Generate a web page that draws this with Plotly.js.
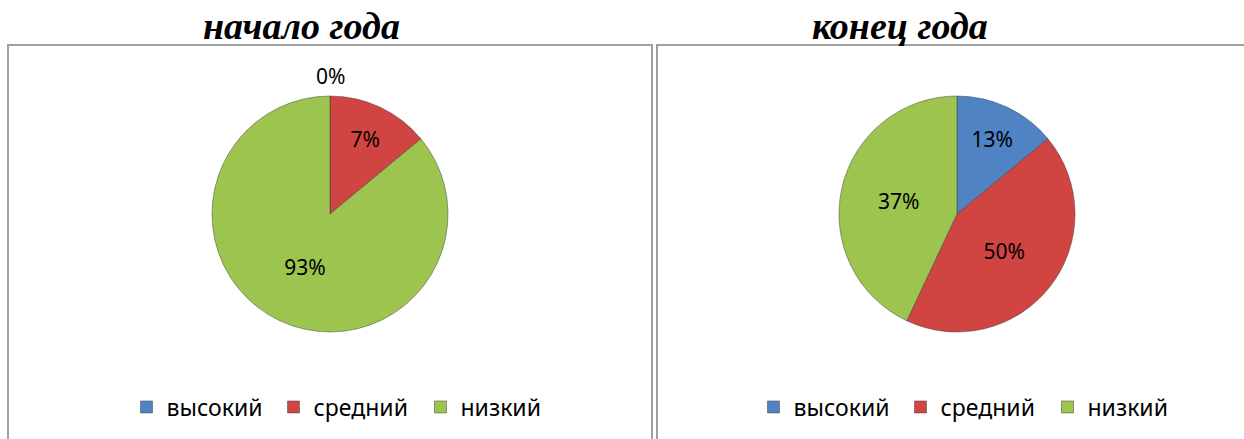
<!DOCTYPE html>
<html>
<head>
<meta charset="utf-8">
<script src="https://cdn.plot.ly/plotly-3.0.1.min.js"></script>
<style>html,body{margin:0;padding:0;background:#fff;}#chart{width:1244px;height:439px;}</style>
</head>
<body>
<div id="chart"></div>
<script>
// Data
const categories = ['высокий', 'средний', 'низкий'];
const panelTitles = ['начало года', 'конец года'];
// slice sizes as drawn in the picture
const startValues = [0, 14, 86];
const endValues = [14, 43, 43];
// percentage labels as printed on the picture
const startLabels = ['0%', '7%', '93%'];
const endLabels = ['13%', '50%', '37%'];
const colors = ['#4F83C4', '#D04541', '#9CC44F'];

const W = 1244, H = 439;
const px = v => v / W, py = v => 1 - v / H;
const FONT = '"Noto Sans", "Open Sans", sans-serif';
const labelFont = {family: FONT, size: 21, color: '#000'};

function pieTrace(labels, values, texts, xd, yd, legend) {
  return {
    type: 'pie', values: values, labels: labels, text: texts,
    textinfo: 'text', textposition: 'inside', insidetextorientation: 'horizontal',
    textfont: labelFont, sort: false, direction: 'clockwise', rotation: 0,
    marker: {colors: colors, line: {color: 'rgba(60,60,60,0.6)', width: 0.8}},
    domain: {x: xd, y: yd}, legend: legend, hoverinfo: 'label+text'
  };
}

// second pie gets its own legend; an invisible suffix keeps Plotly from merging same-named items
const endCategories = categories.map(c => c + '\u200b');

const data = [
  pieTrace(categories, startValues, startLabels, [px(212), px(448)], [py(332), py(96)], 'legend'),
  pieTrace(endCategories, endValues, endLabels, [px(839), px(1075)], [py(332), py(96)], 'legend2')
];

const legendCommon = {
  orientation: 'h', xanchor: 'center', yanchor: 'middle',
  font: {family: FONT, size: 23, color: '#000'},
  bgcolor: 'rgba(0,0,0,0)', itemclick: false, itemdoubleclick: false,
  entrywidth: 102, entrywidthmode: 'pixels'
};

const titleFont = {family: '"Liberation Serif", "Times New Roman", serif', size: 38, style: 'italic', weight: 'bold', color: '#000'};

const layout = {
  width: W, height: H,
  margin: {l: 0, r: 0, t: 0, b: 0},
  paper_bgcolor: '#fff',
  showlegend: true,
  legend: Object.assign({x: px(347), y: py(407)}, legendCommon),
  legend2: Object.assign({x: px(974), y: py(407)}, legendCommon),
  shapes: [
    {type: 'rect', xref: 'paper', yref: 'paper', x0: px(8), x1: px(652), y0: py(460), y1: py(45),
     line: {color: '#A0A0A0', width: 2}},
    {type: 'rect', xref: 'paper', yref: 'paper', x0: px(657), x1: px(1260), y0: py(460), y1: py(45),
     line: {color: '#A0A0A0', width: 2}}
  ],
  annotations: [
    {xref: 'paper', yref: 'paper', x: px(301), y: py(26), xanchor: 'center', yanchor: 'middle',
     text: panelTitles[0], showarrow: false, font: titleFont},
    {xref: 'paper', yref: 'paper', x: px(900), y: py(26), xanchor: 'center', yanchor: 'middle',
     text: panelTitles[1], showarrow: false, font: titleFont},
    {xref: 'paper', yref: 'paper', x: px(330), y: py(76), xanchor: 'center', yanchor: 'middle',
     text: startLabels[0], showarrow: false, font: labelFont}
  ]
};

Plotly.newPlot('chart', data, layout, {displayModeBar: false, staticPlot: true});
</script>
</body>
</html>
